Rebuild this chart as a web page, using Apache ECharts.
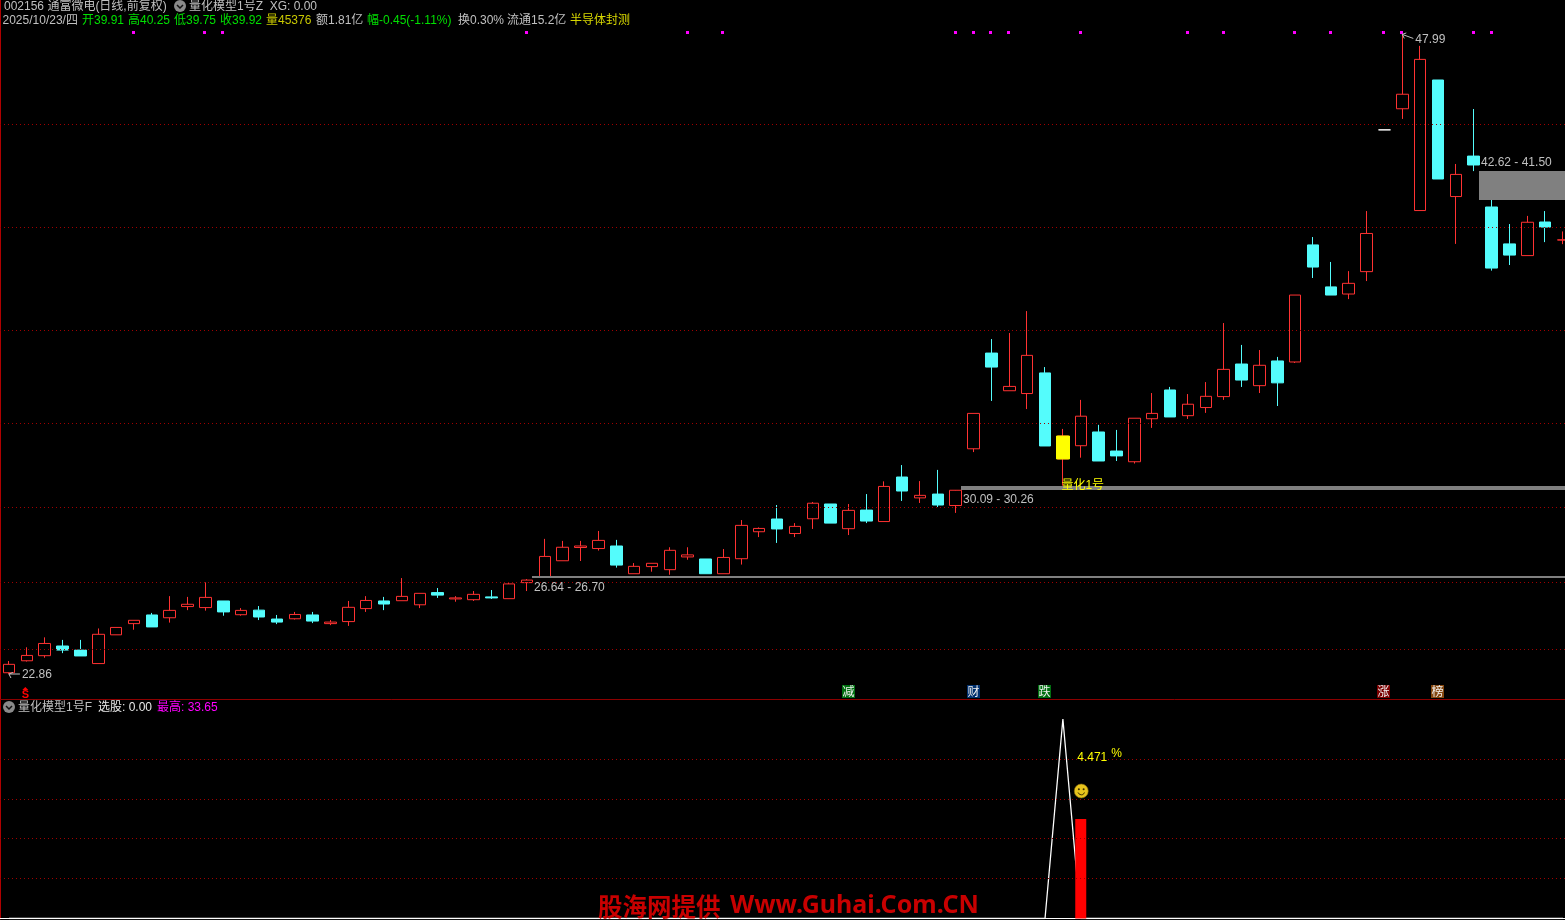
<!DOCTYPE html>
<html>
<head>
<meta charset="utf-8">
<style>html,body{margin:0;padding:0;background:#000}#c{width:1565px;height:920px}</style>
<script src="https://cdn.jsdelivr.net/npm/echarts@6/dist/echarts.min.js"></script>
</head>
<body>
<div id="c"></div>
<script>
// ---------- data ----------
const categories = [];
const opens  = [22.91,23.38,23.58,23.96,23.80,23.27,24.40,24.84,25.18,25.07,25.51,25.47,25.73,25.19,25.37,25.02,25.03,25.18,24.84,24.92,25.43,25.73,25.74,25.58,26.06,25.81,25.78,25.89,25.82,26.45,26.69,27.31,27.83,27.79,27.89,26.80,27.08,26.96,27.46,27.38,26.80,27.39,28.45,28.95,28.38,28.96,29.54,28.57,29.30,28.85,30.60,29.78,29.93,29.48,31.71,35.47,33.99,33.88,34.69,31.31,31.83,32.37,31.62,31.20,32.89,34.02,33.01,33.33,33.76,35.04,34.19,35.16,35.12,39.72,38.07,37.79,38.67,44.24,45.07,41.07,46.20,41.62,43.21,41.21,39.76,39.30,40.62,39.91];
const closes = [23.24,23.59,24.06,23.80,23.57,24.42,24.69,24.97,24.71,25.36,25.60,25.87,25.30,25.36,25.10,24.90,25.20,24.94,24.90,25.48,25.75,25.61,25.91,26.03,25.96,25.85,25.99,25.85,26.40,26.55,27.48,27.84,27.89,28.11,27.14,27.09,27.21,27.72,27.54,26.80,27.44,28.70,28.58,28.56,28.66,29.57,28.79,29.29,28.87,30.23,30.05,29.88,29.50,30.08,33.10,34.92,34.16,35.38,31.82,32.21,32.99,31.23,31.43,32.91,33.10,32.96,33.46,33.77,34.83,34.41,34.99,34.30,37.75,38.85,37.75,38.21,40.17,44.24,45.64,47.01,42.31,42.49,42.86,38.81,39.32,40.61,40.42,39.92];
const lows   = [22.86,23.35,23.50,23.68,23.57,23.27,24.40,24.60,24.71,24.88,25.37,25.35,25.15,25.15,24.98,24.82,25.00,24.86,24.78,24.75,25.30,25.37,25.74,25.45,25.85,25.70,25.73,25.81,25.82,26.12,26.69,27.31,27.30,27.71,27.04,26.80,26.88,26.76,27.35,26.80,26.80,27.16,28.24,28.01,28.24,28.56,28.79,28.32,28.79,28.85,29.66,29.58,29.42,29.19,31.58,33.59,33.99,33.27,31.82,30.26,31.36,31.23,31.23,31.13,32.53,32.96,32.88,33.12,33.63,34.14,33.90,33.39,35.08,38.42,37.75,37.59,38.30,44.24,44.67,41.07,42.31,39.76,42.62,38.71,38.93,39.30,39.83,39.75];
const highs  = [23.37,23.91,24.30,24.20,24.20,24.65,24.69,24.97,25.26,25.92,25.89,26.46,25.73,25.45,25.53,25.18,25.30,25.30,24.98,25.73,25.92,25.89,26.63,26.03,26.24,25.92,26.12,26.16,26.44,26.59,28.17,28.09,28.09,28.48,28.13,27.22,27.21,27.84,27.84,27.38,27.77,28.91,28.62,29.50,28.79,29.62,29.54,29.54,29.93,30.43,31.07,30.44,30.88,30.09,33.10,36.02,36.26,37.12,34.92,32.49,33.63,32.65,32.45,32.91,33.90,34.14,33.86,34.33,36.65,35.79,35.59,35.32,37.75,40.03,39.05,38.69,41.05,44.24,47.99,47.54,46.20,42.90,45.06,41.50,40.54,40.86,41.05,40.25];
opens.forEach((_, i) => categories.push(String(i)));

const signalIndex = 59;            // yellow candle, "量化1号"
const dojiIndex = 77;              // white dash
const priceGridValues = [44.45,40.40,36.36,32.70,29.40,26.46,23.82];
const subGridValues = [6.73,13.46,20.19,26.92];
const markerIndices = [7,11,12,29,38,40,53,54,55,56,60,66,68,72,74,77,78,82,83];
const markerPrice = 48.13;
const zoneStarts = [29,53,82];
const zoneLows   = [26.64,30.09,41.50];
const zoneHighs  = [26.70,30.26,42.62];
const zoneLabels = ['26.64 - 26.70','30.09 - 30.26','42.62 - 41.50'];
const extremeIndices = [78,0];
const extremeValues  = [47.99,22.86];
const tagIndices = [47,54,58,77,80];
const tagTexts   = ['减','财','跌','涨','榜'];
const tagFills   = ['#006f10','#00306e','#006f10','#7a0000','#84470f'];
const tagPrice = 22.19;
const sIndex = 1;
const subLine = [[0,0],[58,0],[59,33.65],[60,0],[87,0]];
const subBar  = [[60,16.8]];
const smileyValue = 21.5;
const percentValue = 27.2;
const percentText = '4.471';

const headerTexts  = ['002156 通富微电(日线,前复权)','量化模型1号Z  XG: 0.00','2025/10/23/四','开39.91','高40.25','低39.75','收39.92','量45376','额1.81亿','幅-0.45(-1.11%)','换0.30%','流通15.2亿','半导体封测','量化模型1号F','选股: 0.00','最高: 33.65'];
const headerColors = ['#c0c0c0','#c0c0c0','#c0c0c0','#00e000','#00e000','#00e000','#00e000','#c8c800','#c0c0c0','#00e000','#c0c0c0','#c0c0c0','#d8d800','#c0c0c0','#e8e8e8','#ff00ff'];
const watermarkCn = '股海网提供';
const watermarkEn = 'Www.Guhai.Com.CN';

// ---------- layout ----------
const FONT = '12px "Liberation Sans","Noto Sans CJK SC",sans-serif';
const headerX = [4,189,2.5,82,128,174,220,266,316,367,458,507,570,18,98,157];
const headerY = [7,7,21,21,21,21,21,21,21,21,21,21,21,708,708,708];
const graphics = headerTexts.map((t, i) => ({
  type: 'text', x: headerX[i], y: headerY[i], z: 30,
  style: { text: t, fill: headerColors[i], font: FONT, verticalAlign: 'middle' }
}));
function icon(cx, cy) {
  return [
    { type: 'circle', z: 30, shape: { cx, cy, r: 6 }, style: { fill: '#8a8a8a' } },
    { type: 'polyline', z: 31, shape: { points: [[cx-3,cy-1],[cx,cy+2],[cx+3,cy-1]] }, style: { stroke: '#111', lineWidth: 1.5, fill: null } }
  ];
}
graphics.push(...icon(180,6), ...icon(9,707));
graphics.push({ type:'text', x:598, y:907, z:40, style:{ text:watermarkCn, fill:'#c80000', font:'bold 24.5px "Noto Sans CJK SC"', verticalAlign:'middle' } });
graphics.push({ type:'text', x:730, y:906, z:40, style:{ text:watermarkEn, fill:'#c80000', font:'bold 25px "Noto Sans","Open Sans"', verticalAlign:'middle' } });

const candleData = opens.map((o, i) => {
  const item = { value: [o, closes[i], lows[i], highs[i]] };
  if (i === dojiIndex) item.itemStyle = { color:'#fff', color0:'#fff', borderColor:'#fff', borderColor0:'#fff', borderColorDoji:'#fff' };
  return item;
});
const signalData = opens.map((o, i) => i === signalIndex ? [o, closes[i], o, closes[i]] : '-');

const textStyle = (text, x, y, fill, align) => ({ text, x, y, fill: fill, font: FONT, align: align || 'left', verticalAlign: 'middle' });

function renderZone(params, api) {
  const i = params.dataIndex;
  const x0 = api.coord([api.value(0), api.value(2)]);
  const x1 = api.coord([api.value(0), api.value(1)]);
  const left = Math.round(x0[0] + 5);
  const top = Math.round(x0[1]);
  const h = Math.max(1, Math.round(x1[1] - x0[1]));
  const labelY = i === 2 ? top - 8 : top + h + 9.5;
  return { type:'group', children:[
    { type:'rect', shape:{ x:left, y:top, width:1565-left, height:h }, style:{ fill: h === 1 ? '#a0a0a0' : '#808080' } },
    { type:'text', style: textStyle(zoneLabels[i], left + 2, labelY, '#c0c0c0') }
  ]};
}
function renderMarker(params, api) {
  const p = api.coord([api.value(0), api.value(1)]);
  return { type:'rect', shape:{ x:Math.round(p[0])-2, y:Math.round(p[1]), width:3, height:3 }, style:{ fill:'#ff00ff' } };
}
function renderExtreme(params, api) {
  const p = api.coord([api.value(0), api.value(1)]);
  const up = params.dataIndex === 0;
  const tx = p[0] + 12;
  const ty = p[1] + (up ? 4 : 0);
  return { type:'group', children:[
    { type:'polyline', shape:{ points:[[p[0],p[1]],[tx-1,ty]] }, style:{ stroke:'#c0c0c0', lineWidth:1, fill:null } },
    { type:'polyline', shape:{ points:[[p[0]+4,p[1]-1.5],[p[0],p[1]],[p[0]+2,p[1]+4]] }, style:{ stroke:'#c0c0c0', lineWidth:1, fill:null } },
    { type:'text', style: textStyle(String(extremeValues[params.dataIndex].toFixed(2)), tx + 1, ty + 1, '#c0c0c0') }
  ]};
}
function renderTag(params, api) {
  const p = api.coord([api.value(0), api.value(1)]);
  const i = params.dataIndex;
  return { type:'group', children:[
    { type:'rect', shape:{ x:Math.round(p[0])-7, y:Math.round(p[1])-6, width:13, height:13 }, style:{ fill:tagFills[i] } },
    { type:'text', style: { text:tagTexts[i], x:Math.round(p[0])-0.5, y:Math.round(p[1])+0.5, fill:'#f0f0f0', font:'12px "Noto Sans CJK SC"', align:'center', verticalAlign:'middle' } }
  ]};
}
function renderS(params, api) {
  const p = api.coord([api.value(0), api.value(1)]);
  const x = p[0] - 1.5, y = p[1];
  return { type:'group', children:[
    { type:'polygon', shape:{ points:[[x-3,y-1],[x,y-4],[x+3,y-1]] }, style:{ fill:'#ff0000' } },
    { type:'text', style:{ text:'S', x:x, y:y+3.5, fill:'#ff0000', font:'bold 11px "Liberation Sans"', align:'center', verticalAlign:'middle' } }
  ]};
}
function renderSignalText(params, api) {
  const p = api.coord([api.value(0), api.value(1)]);
  return { type:'text', style: { text:'量化1号', x:p[0]-1.5, y:p[1]+0.5, fill:'#ffff00', font:FONT, verticalAlign:'middle' } };
}
function renderSmiley(params, api) {
  const p = api.coord([api.value(0), api.value(1)]);
  const x = p[0] + 0.5, y = p[1];
  return { type:'group', children:[
    { type:'circle', shape:{ cx:x, cy:y, r:7 }, style:{ fill:'#e8c41c', stroke:'#8a6d10', lineWidth:0.6 } },
    { type:'circle', shape:{ cx:x-2.4, cy:y-1.8, r:1 }, style:{ fill:'#3a2a00' } },
    { type:'circle', shape:{ cx:x+2.4, cy:y-1.8, r:1 }, style:{ fill:'#3a2a00' } },
    { type:'arc', shape:{ cx:x, cy:y+0.3, r:3.4, startAngle:0.35, endAngle:Math.PI-0.35 }, style:{ stroke:'#3a2a00', lineWidth:1, fill:null } }
  ]};
}
function renderPercent(params, api) {
  const p = api.coord([api.value(0), api.value(1)]);
  return { type:'group', children:[
    { type:'text', style: textStyle(percentText, p[0]-3.5, p[1], '#ffff00') },
    { type:'text', style: textStyle('%', p[0]+30.5, p[1]-4, '#ffff00') }
  ]};
}

const option = {
  backgroundColor: '#000',
  animation: false,
  graphic: graphics,
  grid: [
    { left:0, top:0, width:1572, height:699, outerBoundsMode:'none' },
    { left:0, top:700, width:1572, height:218.5, outerBoundsMode:'none' }
  ],
  xAxis: [
    { type:'category', gridIndex:0, data:categories, axisTick:{show:false}, axisLabel:{show:false}, splitLine:{show:false},
      axisLine:{ show:true, onZero:false, lineStyle:{ color:'#8c0000', width:1 } } },
    { type:'category', gridIndex:1, data:categories, axisTick:{show:false}, axisLabel:{show:false}, splitLine:{show:false},
      axisLine:{ show:true, onZero:false, lineStyle:{ color:'#ffffff', width:1 } } }
  ],
  yAxis: [
    { type:'value', gridIndex:0, min:21.878, max:49.343, axisTick:{show:false}, axisLabel:{show:false}, splitLine:{show:false},
      axisLine:{ show:true, lineStyle:{ color:'#b00000', width:2 } } },
    { type:'value', gridIndex:1, min:0, max:36.85, axisTick:{show:false}, axisLabel:{show:false}, splitLine:{show:false},
      axisLine:{ show:true, lineStyle:{ color:'#b00000', width:2 } } }
  ],
  series: [
    { type:'line', name:'priceGrid', xAxisIndex:0, yAxisIndex:0, data:[], z:1, silent:true,
      markLine:{ silent:true, symbol:'none', label:{show:false}, animation:false,
        lineStyle:{ color:'#a00000', width:1, type:[1,3] },
        data: priceGridValues.map(v => ({ yAxis:v })) } },
    { type:'line', name:'subGrid', xAxisIndex:1, yAxisIndex:1, data:[], z:1, silent:true,
      markLine:{ silent:true, symbol:'none', label:{show:false}, animation:false,
        lineStyle:{ color:'#a00000', width:1, type:[1,3] },
        data: subGridValues.map(v => ({ yAxis:v })) } },
    { type:'candlestick', name:'K', xAxisIndex:0, yAxisIndex:0, z:3, barWidth:12, data:candleData,
      itemStyle:{ color:'#000', color0:'#54fcfc', borderColor:'#ff3232', borderColor0:'#54fcfc', borderWidth:1 } },
    { type:'candlestick', name:'signal', xAxisIndex:0, yAxisIndex:0, z:4, barWidth:14, data:signalData,
      itemStyle:{ color:'#ffff00', color0:'#ffff00', borderColor:'#ffff00', borderColor0:'#ffff00', borderWidth:1 } },
    { type:'custom', name:'markers', xAxisIndex:0, yAxisIndex:0, z:5, renderItem:renderMarker,
      data: markerIndices.map(i => [i, markerPrice]) },
    { type:'custom', name:'zones', xAxisIndex:0, yAxisIndex:0, z:6, renderItem:renderZone, clip:false,
      data: zoneStarts.map((s, i) => [s, zoneLows[i], zoneHighs[i]]) },
    { type:'custom', name:'extremes', xAxisIndex:0, yAxisIndex:0, z:7, renderItem:renderExtreme,
      data: extremeIndices.map((s, i) => [s, extremeValues[i]]) },
    { type:'custom', name:'tags', xAxisIndex:0, yAxisIndex:0, z:7, renderItem:renderTag,
      data: tagIndices.map(i => [i, tagPrice]) },
    { type:'custom', name:'sTag', xAxisIndex:0, yAxisIndex:0, z:7, renderItem:renderS, data:[[sIndex, tagPrice]] },
    { type:'custom', name:'signalText', xAxisIndex:0, yAxisIndex:0, z:8, renderItem:renderSignalText, data:[[signalIndex, lows[signalIndex]]] },
    { type:'line', name:'选股', xAxisIndex:1, yAxisIndex:1, z:3, symbol:'none', data:subLine, lineStyle:{ color:'#fff', width:1.3 } },
    { type:'bar', name:'bar', xAxisIndex:1, yAxisIndex:1, z:4, barWidth:11, data:subBar, itemStyle:{ color:'#ff0000' } },
    { type:'custom', name:'smiley', xAxisIndex:1, yAxisIndex:1, z:5, renderItem:renderSmiley, data:[[60, smileyValue]] },
    { type:'custom', name:'percent', xAxisIndex:1, yAxisIndex:1, z:5, renderItem:renderPercent, data:[[60, percentValue]] }
  ]
};
const chart = echarts.init(document.getElementById('c'), null, { renderer:'canvas', width:1565, height:920 });
chart.setOption(option);
</script>
</body>
</html>
